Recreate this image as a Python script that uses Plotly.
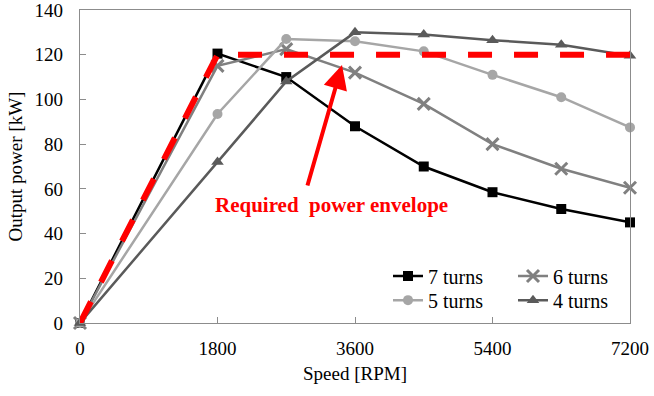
import plotly.graph_objects as go

# Motor speed sample points [RPM]
speed = [0, 1800, 2700, 3600, 4500, 5400, 6300, 7200]

# Output power per winding configuration [kW]
p_7turns = [0, 120.5, 110, 88, 70, 58.5, 51, 45]
p_6turns = [0, 115, 122.5, 112, 98, 80, 69, 60.5]
p_5turns = [0, 93.5, 127, 126, 121.5, 111, 101, 87.5]
p_4turns = [0, 72, 108, 130, 129, 126.5, 124.5, 119.5]

# Required power envelope
env_speed = [0, 1800, 7200]
env_power = [0, 120, 120]

x_ticks = [0, 1800, 3600, 5400, 7200]

FONT = "Liberation Serif"

series = [
    ("7 turns", p_7turns, "#000000", "square", 10, "legend"),
    ("6 turns", p_6turns, "#808080", "x-thin-open", 12, "legend"),
    ("5 turns", p_5turns, "#a6a6a6", "circle", 10, "legend2"),
    ("4 turns", p_4turns, "#5a5a5a", "triangle-up", 11, "legend2"),
]

fig = go.Figure()
for name, vals, color, sym, size, leg in series:
    marker = dict(symbol=sym, size=size, color=color)
    if sym == "x-thin-open":
        marker["line"] = dict(color=color, width=3)
    fig.add_trace(go.Scatter(
        x=speed, y=vals, name=name, mode="lines+markers",
        line=dict(color=color, width=2.5), marker=marker,
        legend=leg, cliponaxis=False,
    ))

fig.add_trace(go.Scatter(
    x=env_speed, y=env_power, mode="lines", showlegend=False,
    line=dict(color="#ff0000", width=6, dash="24px,22px"), cliponaxis=False,
))

axis_common = dict(
    showline=True, linecolor="#8c8c8c", linewidth=1.3, mirror=True,
    ticks="inside", ticklen=6, tickcolor="#8c8c8c", tickwidth=1.3,
    showgrid=False, zeroline=False, automargin=False,
    ticklabeloverflow="allow",
    tickfont=dict(family=FONT, size=19, color="#000000"),
)

fig.update_layout(
    width=654, height=396,
    margin=dict(l=80, r=24, t=10, b=73),
    paper_bgcolor="white", plot_bgcolor="white",
    font=dict(family=FONT, size=19, color="#000000"),
    xaxis=dict(range=[0, 7200], tickvals=x_ticks, ticklabelstandoff=8,
               title=dict(text="Speed [RPM]", standoff=8,
                          font=dict(family=FONT, size=19)),
               **axis_common),
    yaxis=dict(range=[0, 140], dtick=20, ticklabelstandoff=12,
               title=dict(text="Output power [kW]", standoff=6,
                          font=dict(family=FONT, size=19)),
               **axis_common),
    legend=dict(orientation="h", x=0.56, y=0.15, xanchor="left", yanchor="middle",
                entrywidth=80, bgcolor="rgba(0,0,0,0)",
                font=dict(family=FONT, size=20)),
    legend2=dict(orientation="h", x=0.56, y=0.073, xanchor="left", yanchor="middle",
                 entrywidth=80, bgcolor="rgba(0,0,0,0)",
                 font=dict(family=FONT, size=20)),
    showlegend=True,
)

# Arrow pointing at the envelope
fig.add_annotation(
    x=3430, y=115.4, ax=2972, ay=60.8, xref="x", yref="y", axref="x", ayref="y",
    text="", showarrow=True, arrowhead=2, arrowsize=1.2, arrowwidth=4,
    arrowcolor="#ff0000",
)
fig.add_annotation(
    x=3290, y=52.8, xref="x", yref="y", showarrow=False,
    text="<b>Required  power envelope</b>",
    font=dict(family=FONT, size=21, color="#ff0000"),
)

fig.write_html("out.html")
